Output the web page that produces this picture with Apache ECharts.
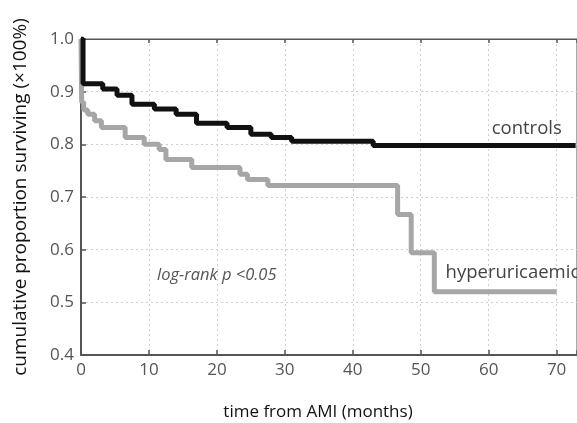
<!DOCTYPE html>
<html>
<head>
<meta charset="utf-8">
<script src="https://cdn.jsdelivr.net/npm/echarts@6/dist/echarts.min.js"></script>
<style>
  html, body { margin: 0; padding: 0; background: #fff; }
  #chart { width: 577px; height: 423px; }
</style>
</head>
<body>
<div id="chart"></div>
<script>
// Kaplan-Meier curves (months, proportion surviving)
const controlTimes = [0, 0.3, 3.2, 5.3, 7.5, 10.8, 14, 17, 21.5, 25, 28, 31, 43, 72.8];
const controlSurv = [1.0, 0.915, 0.905, 0.893, 0.876, 0.867, 0.857, 0.84, 0.832, 0.819, 0.813, 0.806, 0.798, 0.798];

const hyperTimes = [0, 0.1, 0.4, 1, 2, 3, 6.5, 9.3, 11.5, 12.5, 16.3, 23.4, 24.5, 27.5, 46.6, 48.6, 52, 70];
const hyperSurv = [1.0, 0.88, 0.865, 0.857, 0.845, 0.832, 0.813, 0.8, 0.79, 0.771, 0.756, 0.743, 0.733, 0.722, 0.667, 0.594, 0.52, 0.52];

const xTicks = [0, 10, 20, 30, 40, 50, 60, 70];

const font = '"Open Sans", "Noto Sans", sans-serif';

const toPairs = (xs, ys) => xs.map((x, i) => [x, ys[i]]);

const chart = echarts.init(document.getElementById('chart'));

const gridLine = { show: true, lineStyle: { color: '#cfcfcf', type: [2, 3], width: 1 } };

chart.setOption({
  animation: false,
  textStyle: { fontFamily: font },
  grid: {
    left: 81, right: 0, top: 39, bottom: 68,
    outerBoundsMode: 'none', containLabel: false,
    show: true, borderColor: '#555', borderWidth: 1
  },
  xAxis: [
    {
      type: 'value', min: 0, max: 73, interval: 10,
      position: 'bottom',
      axisLine: { show: true, lineStyle: { color: '#555', width: 2 } },
      axisTick: { show: true, inside: true, length: 5, lineStyle: { color: '#555', width: 1.5 } },
      axisLabel: {
        color: '#555', fontSize: 17, margin: 7,
        formatter: v => (xTicks.includes(v) ? String(v) : '')
      },
      splitLine: gridLine,
      name: 'time from AMI (months)',
      nameLocation: 'middle', nameGap: 49,
      nameTextStyle: { color: '#111', fontSize: 17, fontFamily: font, padding: [0, 22, 0, 0] }
    },
    {
      type: 'value', min: 0, max: 73, interval: 10,
      position: 'top',
      axisLine: { show: true, lineStyle: { color: '#555', width: 1 } },
      axisTick: { show: true, inside: true, length: 4, lineStyle: { color: '#555', width: 1.5 } },
      axisLabel: { show: false },
      splitLine: { show: false }
    }
  ],
  yAxis: {
    type: 'value', min: 0.4, max: 1.0, interval: 0.1,
    axisLine: { show: true, lineStyle: { color: '#555', width: 2 } },
    axisTick: { show: true, inside: true, length: 5, lineStyle: { color: '#555', width: 1.5 } },
    axisLabel: {
      color: '#555', fontSize: 17, margin: 7,
      formatter: v => v.toFixed(1)
    },
    splitLine: gridLine,
    name: 'cumulative proportion surviving (\u00d7100%)',
    nameLocation: 'middle', nameGap: 51, nameRotate: 90,
    nameTextStyle: { color: '#111', fontSize: 19, fontFamily: font }
  },
  series: [
    {
      name: 'hyperuricaemic',
      type: 'line', step: 'end', symbol: 'none',
      data: toPairs(hyperTimes, hyperSurv),
      lineStyle: { color: '#a6a6a6', width: 5 },
      z: 2,
      endLabel: {
        show: true, formatter: 'hyperuricaemic',
        color: '#444', fontSize: 18.5, fontFamily: font,
        offset: [-119, -19]
      }
    },
    {
      name: 'controls',
      type: 'line', step: 'end', symbol: 'none',
      data: toPairs(controlTimes, controlSurv),
      lineStyle: { color: '#111', width: 5 },
      z: 3,
      endLabel: {
        show: true, formatter: 'controls',
        color: '#444', fontSize: 18.5, fontFamily: font,
        offset: [-92, -17]
      }
    }
  ],
  graphic: [
    {
      type: 'text', left: 157, top: 267,
      style: {
        text: 'log-rank p <0.05', fill: '#555',
        font: 'italic 16.5px ' + font
      }
    }
  ]
});
</script>
</body>
</html>
